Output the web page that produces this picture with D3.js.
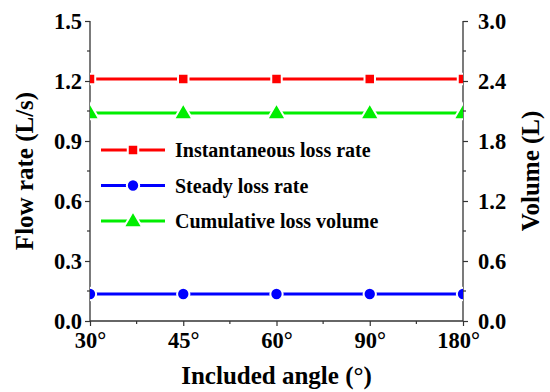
<!DOCTYPE html>
<html>
<head>
<meta charset="utf-8">
<script src="https://cdn.jsdelivr.net/npm/d3@7"></script>
<style>
  body { margin: 0; background: #fff; }
  text { font-family: "Liberation Serif", "Times New Roman", serif; font-weight: bold; fill: #000; }
</style>
</head>
<body>
<div id="chart"></div>
<script>
// data
var angles = ["30°", "45°", "60°", "90°", "180°"];
var instantRate = [1.21, 1.21, 1.21, 1.21, 1.21];   // L/s, left axis
var steadyRate = [0.135, 0.135, 0.135, 0.135, 0.135]; // L/s, left axis
var cumVolume = [2.08, 2.08, 2.08, 2.08, 2.08];     // L, right axis
var leftTicks = [0, 0.3, 0.6, 0.9, 1.2, 1.5];
var rightTicks = [0, 0.6, 1.2, 1.8, 2.4, 3.0];

var svgWidth = 550, svgHeight = 392;
var margin = {top: 21, right: 87, bottom: 71, left: 90};
var width = svgWidth - margin.left - margin.right;
var height = svgHeight - margin.top - margin.bottom;

var svg = d3.select("#chart").append("svg")
  .attr("width", svgWidth)
  .attr("height", svgHeight);

svg.append("defs").append("clipPath").attr("id", "plotClip")
  .append("rect").attr("width", width).attr("height", height);

var g = svg.append("g").attr("transform", `translate(${margin.left}, ${margin.top})`);

var x = d3.scalePoint().domain(angles).range([0, width]);
var yL = d3.scaleLinear().domain([0, 1.5]).range([height, 0]);
var yR = d3.scaleLinear().domain([0, 3.0]).range([height, 0]);

// minor ticks
var step = x.step();
var minorX = angles.slice(0, -1).map(a => x(a) + step / 2);
g.selectAll(".mx").data(minorX).enter().append("line")
  .attr("x1", d => d).attr("x2", d => d)
  .attr("y1", height).attr("y2", height + 3)
  .attr("stroke", "#333").attr("stroke-width", 1.2);
var minorL = d3.range(0.15, 1.5, 0.3);
g.selectAll(".ml").data(minorL).enter().append("line")
  .attr("x1", 0).attr("x2", -3)
  .attr("y1", d => yL(d)).attr("y2", d => yL(d))
  .attr("stroke", "#333").attr("stroke-width", 1.2);
var minorR = d3.range(0.3, 3.0, 0.6);
g.selectAll(".mr").data(minorR).enter().append("line")
  .attr("x1", width).attr("x2", width + 3)
  .attr("y1", d => yR(d)).attr("y2", d => yR(d))
  .attr("stroke", "#333").attr("stroke-width", 1.2);

// axes
var bottomAxis = g.append("g").attr("transform", `translate(0, ${height})`)
  .call(d3.axisBottom(x).tickSize(5).tickPadding(6));
var leftAxis = g.append("g")
  .call(d3.axisLeft(yL).tickValues(leftTicks).tickFormat(d3.format(".1f")).tickSize(5).tickPadding(3));
var rightAxis = g.append("g").attr("transform", `translate(${width}, 0)`)
  .call(d3.axisRight(yR).tickValues(rightTicks).tickFormat(d3.format(".1f")).tickSize(5).tickPadding(10));

[bottomAxis, leftAxis, rightAxis].forEach(function(ax) {
  ax.select(".domain").attr("stroke", "#333").attr("stroke-width", 1.3);
  ax.selectAll(".tick line").attr("stroke", "#333").attr("stroke-width", 1.2);
  ax.selectAll(".tick text").style("font-size", "22.5px").attr("fill", "#000");
});
// straight axis lines without end caps
bottomAxis.select(".domain").attr("d", `M0,0H${width}`);
leftAxis.select(".domain").attr("d", `M0,0V${height}`);
rightAxis.select(".domain").attr("d", `M0,0V${height}`);
bottomAxis.selectAll(".tick text").attr("dy", "0.72em");
// keep the last angle label clear of the right axis "0.0"
bottomAxis.selectAll(".tick text").filter(d => d === "180°").attr("dx", -5);

// series
var series = [
  {name: "Instantaneous loss rate", values: instantRate, y: yL, color: "#ff0000", shape: d3.symbolSquare, size: 110},
  {name: "Steady loss rate", values: steadyRate, y: yL, color: "#0000ff", shape: d3.symbolCircle, size: 120},
  {name: "Cumulative loss volume", values: cumVolume, y: yR, color: "#00ee00", shape: d3.symbolTriangle, size: 150}
];

var plot = g.append("g").attr("clip-path", "url(#plotClip)");

series.forEach(function(s) {
  var line = d3.line().x((d, i) => x(angles[i])).y(d => s.y(d));
  plot.append("path").datum(s.values)
    .attr("d", line)
    .attr("fill", "none")
    .attr("stroke", s.color)
    .attr("stroke-width", 2.8);
  plot.selectAll(null).data(s.values).enter().append("path")
    .attr("d", d3.symbol().type(s.shape).size(s.size))
    .attr("transform", (d, i) => `translate(${x(angles[i])}, ${s.y(d) + (s.shape === d3.symbolTriangle ? 1 : 0)})`)
    .attr("fill", s.color)
    .attr("stroke", "#fff")
    .attr("stroke-width", 2);
});

// legend
var legend = g.append("g").attr("transform", "translate(11, 129)");
series.forEach(function(s, i) {
  var row = legend.append("g").attr("transform", `translate(0, ${i * 35.5})`);
  row.append("line").attr("x1", 0).attr("x2", 64).attr("y1", 0).attr("y2", 0)
    .attr("stroke", s.color).attr("stroke-width", 2.8);
  row.append("path").attr("d", d3.symbol().type(s.shape).size(s.size))
    .attr("transform", `translate(32, ${s.shape === d3.symbolTriangle ? 1 : 0})`)
    .attr("fill", s.color).attr("stroke", "#fff").attr("stroke-width", 2);
  row.append("text").attr("x", 74).attr("y", 7).style("font-size", "20px").text(s.name);
});

// axis titles
svg.append("text")
  .attr("transform", `translate(33, ${margin.top + height / 2}) rotate(-90)`)
  .attr("text-anchor", "middle")
  .style("font-size", "25px")
  .text("Flow rate (L/s)");

svg.append("text")
  .attr("transform", `translate(539, 171) rotate(-90)`)
  .attr("text-anchor", "middle")
  .style("font-size", "25px")
  .text("Volume (L)");

svg.append("text")
  .attr("x", margin.left + width / 2)
  .attr("y", 384)
  .attr("text-anchor", "middle")
  .style("font-size", "25px")
  .text("Included angle (°)");
</script>
</body>
</html>
